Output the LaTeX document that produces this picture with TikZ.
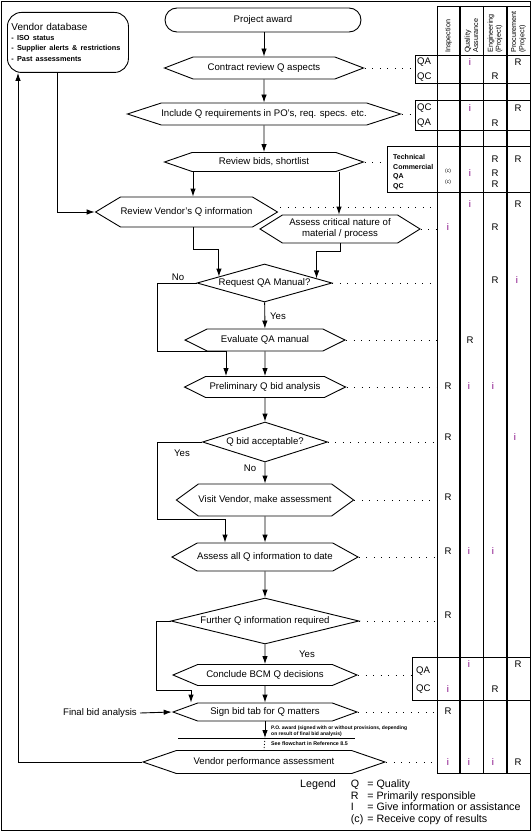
\documentclass[tikz,border=0pt]{standalone}
\usepackage{fontspec}
\setmainfont{Liberation Sans}
\usetikzlibrary{arrows.meta,shapes.symbols,shapes.geometric,shapes.misc}
\definecolor{ipurple}{RGB}{128,0,128}
\begin{document}
\begin{tikzpicture}[x=1pt,y=-1pt,
  every node/.style={font=\fontsize{9.6}{11}\selectfont,inner sep=0pt},
  flow/.style={line width=0.9pt},
  arr/.style={flow,-{Latex[length=8pt,width=5.5pt]}},
  qstep/.style={draw,flow,signal,signal to=west and east},
  qdec/.style={draw,flow,diamond},
  link/.style={line width=0.9pt,dash pattern=on 1pt off 6.5pt},
  ientry/.style={text=ipurple},
  rowlab/.style={anchor=west},
  smallrow/.style={anchor=west,font=\fontsize{7}{8}\selectfont\bfseries},
  head/.style={rotate=90,anchor=west,align=left,font=\fontsize{7.2}{8.2}\selectfont}]
\useasboundingbox (0,0) rectangle (532,832);
\draw[flow] (1,1) rectangle (530.5,830.5); %frame

%vendor database
\node[draw,flow,rounded corners=14pt,anchor=north west,minimum width=121,minimum height=60,text width=113,align=left,inner xsep=4pt] (db) at (7,12)
  {{\fontsize{10}{12}\selectfont Vendor database}\\\fontsize{7.3}{10.2}\selectfont\bfseries - ISO status\\- Supplier alerts \& restrictions\\- Past assessments};

%flow
\node[draw,flow,rounded rectangle,minimum width=196,minimum height=24] (award) at (263,20) {Project award};
\node[qstep,signal pointer angle=42,minimum width=199,minimum height=22] (contract) at (264,68) {Contract review Q aspects};
\node[qstep,signal pointer angle=36,minimum width=252,minimum height=22] (include) at (264,114) {Include Q requirements in PO's, req. specs. etc.};
\node[qstep,signal pointer angle=38,minimum width=199,minimum height=19] (bids) at (264,162) {Review bids, shortlist};
\node[qstep,signal pointer angle=62,minimum width=173,minimum height=30] (vendq) at (186.5,212) {Review Vendor's Q information};
\node[qstep,signal pointer angle=64,minimum width=160,minimum height=28,align=center] (critical) at (340,229) {Assess critical nature of\\material / process};
\node[qdec,aspect=3.55,minimum width=135,minimum height=38] (reqqa) at (264.5,283) {Request QA Manual?};
\node[qstep,signal pointer angle=53,minimum width=160,minimum height=22] (evalqa) at (265,340) {Evaluate QA manual};
\node[qstep,signal pointer angle=53,minimum width=161,minimum height=21] (prelim) at (265,387) {Preliminary Q bid analysis};
\node[qdec,aspect=3.1,minimum width=125,minimum height=40] (qbid) at (265,442) {Q bid acceptable?};
\node[qstep,signal pointer angle=72,minimum width=172,minimum height=32] (visit) at (265,500) {Visit Vendor, make assessment};
\node[qstep,signal pointer angle=58,minimum width=185,minimum height=28] (assessall) at (265,557) {Assess all Q information to date};
\node[qdec,aspect=4.1,minimum width=188,minimum height=46] (further) at (265,621) {Further Q information required};
\node[qstep,signal pointer angle=46,minimum width=184,minimum height=21] (conclude) at (265,675) {Conclude BCM Q decisions};
\node[qstep,signal pointer angle=40,minimum width=184,minimum height=18] (sign) at (265,712) {Sign bid tab for Q matters};
\coordinate (po) at (265,738);
\node[qstep,signal pointer angle=38,minimum width=242,minimum height=23] (vendperf) at (264,762) {Vendor performance assessment};

\node[anchor=east] (finalbid) at (137,713) {Final bid analysis};
\node[anchor=west,align=left,font=\fontsize{5}{6}\selectfont\bfseries] (potext) at (271,731) {P.O. award (signed with or without provisions, depending\\on result of final bid analysis)};
\node[anchor=west,font=\fontsize{5.3}{6}\selectfont\bfseries] (seeref) at (271,744) {See flowchart in Reference 8.5};

%connectors
\draw[arr] (award.south -| contract.north) -- (contract.north);
\draw[arr] (contract) -- (include);
\draw[arr] (include) -- (bids);
\draw[arr] ([xshift=-71pt]bids.south) -- ([xshift=-71pt]bids.south |- vendq.north);
\draw[arr] ([xshift=75pt]bids.south) -- ([xshift=75pt]bids.south |- critical.north);
\draw[arr] ([xshift=-10.5pt]db.south) |- (vendq.west);
\draw[arr] ([xshift=6.5pt]vendq.south) -- ++(0,22) -| (reqqa.172);
\draw[arr] (critical.south) -- ++(0,8) -| (reqqa.5);
\draw[arr] (reqqa.west) -| ([xshift=-108pt]evalqa.south) -| ([xshift=-39pt]prelim.north);
\draw[arr] (reqqa) -- (evalqa);
\draw[arr] (evalqa) -- (prelim);
\draw[arr] (prelim) -- (qbid);
\draw[arr] (qbid.west) -| ([xshift=-108pt,yshift=-3pt]visit.south) -| ([xshift=-40pt]assessall.north);
\draw[arr] (qbid) -- (visit);
\draw[arr] (visit) -- (assessall);
\draw[arr] (assessall) -- (further);
\draw[arr] (further) -- (conclude);
\draw[arr] (further.west) -| ([xshift=-109pt,yshift=-4.5pt]conclude.south) -| ([xshift=-74pt]sign.north);
\draw[arr] (conclude) -- (sign);
\draw[arr] (sign) -- (po);
\draw[flow] ([xshift=-87pt]po) -- ([xshift=90pt]po);
\draw[flow,dash pattern=on 1pt off 2pt] (po) -- (vendperf.north);
\draw[arr] ([xshift=3pt]finalbid.east) -- (sign.west);
\draw[arr] (vendperf.west) -| ([xshift=11pt]db.south west);

\node (no1) at (178,277) {No};
\node (yes1) at (278,316) {Yes};
\node (yes2) at (182,453) {Yes};
\node (no2) at (250,468) {No};
\node (yes3) at (307,654) {Yes};

%table
\coordinate (colI) at (437,0);
\coordinate (boxA) at (415,0);
\coordinate (boxB) at (387,0);
\coordinate (boxC) at (412,0);
\draw[flow] (437,6) -- (530,6);
\draw[flow] (437,6) -- (437,773);
\draw[line width=2pt] (460,6) -- (460,773);
\draw[flow] (483,6) -- (483,773);
\draw[line width=2pt] (507,6) -- (507,773);
\draw[flow] (437,773) -- (530,773);
\draw[flow] (415,55) rectangle (530,83);
\draw[flow] (415,100) rectangle (530,130);
\draw[flow] (387,146) rectangle (530,192);
\draw[flow] (412,657) rectangle (530,700);

\node[head] (hI) at (448.5,53) {Inspection};
\node[head] (hQ) at (471.5,53) {Quality\\Assurance};
\node[head] (hE) at (495,53) {Engineering\\(Project)};
\node[head] (hP) at (518.5,53) {Procurement\\(Project)};

\node[rowlab] (qa1) at (417,62) {QA};
\node[rowlab] (qc1) at (417,77) {QC};
\node[rowlab] (qc2) at (417,108) {QC};
\node[rowlab] (qa2) at (417,123) {QA};
\node[smallrow] (tech) at (393,157) {Technical};
\node[smallrow] (comm) at (393,167) {Commercial};
\node[smallrow] (qa3) at (393,177) {QA};
\node[smallrow] (qc3) at (393,187) {QC};
\node[rowlab] (qa4) at (416,671) {QA};
\node[rowlab] (qc4) at (416,689) {QC};

%links
\draw[link] (contract.east) -- (contract.east -| boxA);
\draw[link] (include.east) -- (include.east -| boxA);
\draw[link] (bids.east) -- (bids.east -| boxB);
\draw[link] ([xshift=2pt,yshift=5pt]vendq.east) -- ([yshift=5pt]vendq.east -| colI);
\draw[link] (critical.east) -- (critical.east -| colI);
\draw[link] (reqqa.east) -- (reqqa.east -| colI);
\draw[link] (evalqa.east) -- (evalqa.east -| colI);
\draw[link] (prelim.east) -- (prelim.east -| colI);
\draw[link] (qbid.east) -- (qbid.east -| colI);
\draw[link] (visit.east) -- (visit.east -| colI);
\draw[link] (assessall.east) -- (assessall.east -| colI);
\draw[link] (further.east) -- (further.east -| colI);
\draw[link] (conclude.east) -- (conclude.east -| boxC);
\draw[link] (sign.east) -- (sign.east -| colI);
\draw[link] (vendperf.east) -- (vendperf.east -| colI);

%entries
\node[ientry] (e1) at (470,62) {i};
\node (e2) at (518,62) {R};
\node (e3) at (495,76) {R};
\node[ientry] (e4) at (470,108) {i};
\node (e5) at (518,108) {R};
\node (e6) at (495,123) {R};
\node (e7) at (495,159) {R};
\node (e8) at (518,159) {R};
\node[font=\fontsize{5}{6}\selectfont] (e9) at (448,171) {(c)};
\node[ientry] (e10) at (470,173) {i};
\node (e11) at (495,173) {R};
\node[font=\fontsize{5}{6}\selectfont] (e12) at (448,182) {(c)};
\node (e13) at (495,184) {R};
\node[ientry] (e14) at (470,204) {i};
\node (e15) at (518,204) {R};
\node[ientry] (e16) at (448,227) {i};
\node (e17) at (495,227) {R};
\node (e18) at (495,280) {R};
\node[ientry] (e19) at (517,280) {i};
\node (e20) at (470,340) {R};
\node (e21) at (448,386) {R};
\node[ientry] (e22) at (469,386) {i};
\node[ientry] (e23) at (493,386) {i};
\node (e24) at (448,437) {R};
\node[ientry] (e25) at (515,437) {i};
\node (e26) at (448,497) {R};
\node (e27) at (448,551) {R};
\node[ientry] (e28) at (469,551) {i};
\node[ientry] (e29) at (493,551) {i};
\node (e30) at (448,615) {R};
\node[ientry] (e31) at (469,664) {i};
\node (e32) at (518,664) {R};
\node[ientry] (e33) at (448,689) {i};
\node (e34) at (495,689) {R};
\node (e35) at (448,711) {R};
\node[ientry] (e36) at (448,762) {i};
\node[ientry] (e37) at (469,762) {i};
\node[ientry] (e38) at (493,762) {i};
\node (e39) at (518,762) {R};

%legend
\node[anchor=north west,font=\fontsize{10.7}{11.7}\selectfont] (legend) at (300,779)
  {\begin{tabular}{@{}l@{\hspace{15pt}}l@{\hspace{4pt}}l@{}}
   Legend & Q & = Quality\\
          & R & = Primarily responsible\\
          & I & = Give information or assistance\\
          & (c) & = Receive copy of results
   \end{tabular}};
\end{tikzpicture}
\end{document}
